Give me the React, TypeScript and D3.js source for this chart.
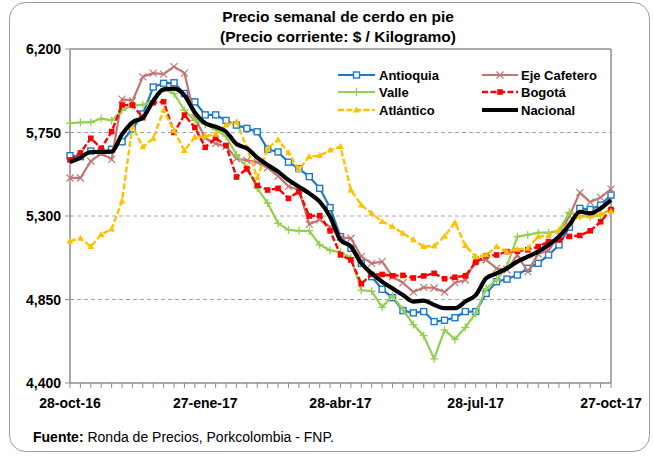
import * as d3 from 'd3'

// weekly prices, 28-oct-16 .. 27-oct-17 (53 weeks)
const START = new Date(2016, 9, 28)

const ANTIOQUIA = [
  5625, 5620, 5650, 5645, 5660, 5700, 5770, 5850, 5995, 6015, 6018, 5960, 5915,
  5845, 5845, 5815, 5790, 5772, 5754, 5660, 5645, 5590, 5555, 5512, 5449, 5345,
  5189, 5126, 5045, 4973, 4905, 4860, 4790, 4778, 4785, 4731, 4738, 4752, 4785,
  4785, 4883, 4946, 4960, 4982, 5018, 5045, 5090, 5144, 5240, 5341, 5335, 5359, 5413,
]
const EJE_CAFETERO = [
  5505, 5505, 5595, 5638, 5605, 5930, 5920, 6050, 6070, 6065, 6105, 6070, 5830,
  5720, 5690, 5675, 5610, 5600, 5590, 5560, 5515, 5460, 5440, 5255, 5280, 5240,
  5185, 5180, 5081, 5045, 5054, 4973, 4940, 4890, 4915, 4912, 4890, 4940, 4955,
  5063, 5063, 5018, 5009, 5090, 5000, 5095, 5115, 5198, 5300, 5426, 5375, 5400, 5445,
]
const VALLE = [
  5800, 5805, 5805, 5825, 5815, 5870, 5895, 5900, 5920, 5985, 5960, 5870, 5815,
  5795, 5765, 5730, 5630, 5560, 5450, 5370, 5260, 5225, 5220, 5220, 5145, 5115,
  5105, 5075, 4900, 4895, 4808, 4870, 4795, 4715, 4655, 4530, 4686, 4635, 4700,
  4776, 4910, 4955, 5030, 5189, 5198, 5210, 5210, 5220, 5320, 5300, 5296, 5305, 5340,
]
const BOGOTA = [
  5602, 5640, 5719, 5665, 5755, 5898, 5898, 5830, 5910, 5916, 5750, 5844, 5777,
  5670, 5720, 5680, 5510, 5555, 5465, 5440, 5449, 5395, 5431, 5300, 5302, 5220,
  5090, 5063, 4935, 4985, 4985, 4978, 4980, 4966, 4977, 4991, 4962, 4970, 4978,
  5050, 5085, 5090, 5108, 5110, 5118, 5135, 5162, 5171, 5190, 5195, 5220, 5269, 5335,
]
const ATLANTICO = [
  5165, 5180, 5135, 5200, 5230, 5380, 5783, 5672, 5717, 5871, 5760, 5653, 5725,
  5730, 5740, 5790, 5808, 5670, 5505, 5665, 5710, 5640, 5550, 5620, 5625, 5655,
  5674, 5440, 5359, 5314, 5270, 5243, 5207, 5171, 5135, 5138, 5190, 5265, 5140,
  5081, 5090, 5135, 5108, 5120, 5126, 5189, 5195, 5225, 5260, 5300, 5300, 5310, 5325,
]
const NACIONAL = [
  5590, 5615, 5645, 5645, 5647, 5740, 5805, 5830, 5920, 5982, 5986, 5950, 5858,
  5800, 5781, 5754, 5688, 5665, 5615, 5575, 5539, 5494, 5458, 5422, 5377, 5296,
  5171, 5135, 5045, 4991, 4946, 4910, 4874, 4839, 4844, 4821, 4803, 4803, 4839,
  4874, 4964, 4991, 5018, 5054, 5081, 5108, 5144, 5189, 5252, 5323, 5314, 5341, 5386,
]

const Y_TICKS = [4400, 4850, 5300, 5750, 6200]
const X_LABELS = ['28-oct-16', '27-ene-17', '28-abr-17', '28-jul-17', '27-oct-17']
const X_LABEL_WEEKS = [0, 13, 26, 39, 52]

type Marker = 'sqOpen' | 'x' | 'plus' | 'sq' | 'tri' | 'none'
interface Series { name: string; values: number[]; color: string; marker: Marker; width: number; dash?: string }

const SERIES: Series[] = [
  { name: 'Antioquia', values: ANTIOQUIA, color: '#1F78C8', marker: 'sqOpen', width: 2.2 },
  { name: 'Eje Cafetero', values: EJE_CAFETERO, color: '#C27572', marker: 'x', width: 2.2 },
  { name: 'Valle', values: VALLE, color: '#92D050', marker: 'plus', width: 2.2 },
  { name: 'Bogotá', values: BOGOTA, color: '#FF0000', marker: 'sq', width: 2.4, dash: '6 2.5' },
  { name: 'Atlántico', values: ATLANTICO, color: '#FFC000', marker: 'tri', width: 2.4, dash: '6 2.5' },
  { name: 'Nacional', values: NACIONAL, color: '#000000', marker: 'none', width: 4.2 },
]

const W = 653
const H = 456
const PLOT = { left: 70, right: 611, top: 49, bottom: 383 }
const NARROW = "'Liberation Sans Narrow', 'Arial Narrow', 'Liberation Sans', Arial, sans-serif"
const SANS = "'Liberation Sans', Arial, sans-serif"
const AXIS = '#8C8C8C'

const week = (i: number) => d3.timeWeek.offset(START, i)

function MarkerShape({ type, x, y, color }: { type: Marker; x: number; y: number; color: string }) {
  switch (type) {
    case 'sqOpen':
      return <rect x={x - 3} y={y - 3} width={6} height={6} fill="#fff" stroke={color} strokeWidth={1.4} />
    case 'sq':
      return <rect x={x - 2.8} y={y - 2.8} width={5.6} height={5.6} fill={color} />
    case 'x':
      return <path d={`M${x - 3.5},${y - 3.5}L${x + 3.5},${y + 3.5}M${x - 3.5},${y + 3.5}L${x + 3.5},${y - 3.5}`} stroke={color} strokeWidth={1.2} />
    case 'plus':
      return <path d={`M${x - 4},${y}L${x + 4},${y}M${x},${y - 4}L${x},${y + 4}`} stroke={color} strokeWidth={1.3} />
    case 'tri':
      return <path d={`M${x},${y - 3.6}L${x + 3.4},${y + 2.4}L${x - 3.4},${y + 2.4}Z`} fill={color} />
    default:
      return null
  }
}

export default function App() {
  const x = d3.scaleTime().domain([week(0), week(52)]).range([PLOT.left, PLOT.right])
  const y = d3.scaleLinear().domain([4400, 6200]).range([PLOT.bottom, PLOT.top])

  const lineFor = (s: Series) =>
    d3.line<number>()
      .x((_d, i) => x(week(i)))
      .y(d => y(d))
      .curve(s.marker === 'none' ? d3.curveMonotoneX : d3.curveLinear)(s.values) ?? ''

  const legendRows = [
    [SERIES[0], SERIES[1]],
    [SERIES[2], SERIES[3]],
    [SERIES[4], SERIES[5]],
  ]
  const legendCols = [{ x0: 338, x1: 375, tx: 379 }, { x0: 482, x1: 518, tx: 521 }]
  const legendY = [75, 92, 110]

  return (
    <div>
      <style>{'body{margin:0}'}</style>
      <svg width={W} height={H} style={{ display: 'block', background: '#fff' }}>
        <rect x={9.5} y={2.5} width={640} height={449} rx={16} fill="#fff" stroke="#9A9A9A" strokeWidth={1} />

        {/* title */}
        <text x={338} y={22} textAnchor="middle" fontFamily={NARROW} fontWeight="bold" fontSize={15.5} fill="#000">
          Precio semanal de cerdo en pie
        </text>
        <text x={338} y={42} textAnchor="middle" fontFamily={NARROW} fontWeight="bold" fontSize={15.5} fill="#000">
          (Precio corriente: $ / Kilogramo)
        </text>

        {/* grid */}
        {Y_TICKS.filter(t => t !== 4400 && t !== 6200).map(t => (
          <line key={t} x1={PLOT.left} x2={PLOT.right} y1={y(t)} y2={y(t)} stroke="#A6A6A6" strokeWidth={1} strokeDasharray="4 3" />
        ))}

        {/* plot frame */}
        <line x1={PLOT.left} x2={PLOT.right} y1={PLOT.top} y2={PLOT.top} stroke={AXIS} strokeWidth={1.5} />
        <line x1={PLOT.right} x2={PLOT.right} y1={PLOT.top} y2={PLOT.bottom} stroke={AXIS} strokeWidth={1.5} />
        <line x1={PLOT.left} x2={PLOT.left} y1={PLOT.top} y2={PLOT.bottom} stroke={AXIS} strokeWidth={1.5} />
        <line x1={PLOT.left} x2={PLOT.right} y1={PLOT.bottom} y2={PLOT.bottom} stroke={AXIS} strokeWidth={1.5} />

        {/* x ticks */}
        {d3.range(53).map(i => (
          <line key={i} x1={x(week(i))} x2={x(week(i))} y1={PLOT.bottom} y2={PLOT.bottom + 5} stroke={AXIS} strokeWidth={1} />
        ))}
        {X_LABELS.map((lab, k) => (
          <text key={lab} x={x(week(X_LABEL_WEEKS[k]))} y={408} textAnchor="middle" fontFamily={NARROW} fontWeight="bold" fontSize={14} fill="#000">
            {lab}
          </text>
        ))}

        {/* y ticks */}
        {Y_TICKS.map(t => (
          <g key={t}>
            <line x1={PLOT.left - 5} x2={PLOT.left} y1={y(t)} y2={y(t)} stroke={AXIS} strokeWidth={1} />
            <text x={61} y={y(t) + 5} textAnchor="end" fontFamily={NARROW} fontWeight="bold" fontSize={14} fill="#000">
              {d3.format(',')(t)}
            </text>
          </g>
        ))}

        {/* series */}
        {SERIES.map(s => (
          <g key={s.name}>
            <path d={lineFor(s)} fill="none" stroke={s.color} strokeWidth={s.width} strokeDasharray={s.dash} strokeLinejoin="round" />
            {s.values.map((v, i) => (
              <MarkerShape key={i} type={s.marker} x={x(week(i))} y={y(v)} color={s.color} />
            ))}
          </g>
        ))}

        {/* legend */}
        {legendRows.map((row, r) =>
          row.map((s, c) => {
            const col = legendCols[c]
            const ly = legendY[r]
            return (
              <g key={s.name}>
                <line x1={col.x0} x2={col.x1} y1={ly} y2={ly} stroke={s.color} strokeWidth={s.marker === 'none' ? 4 : s.width} strokeDasharray={s.dash} />
                <MarkerShape type={s.marker} x={(col.x0 + col.x1) / 2} y={ly} color={s.color} />
                <text x={col.tx} y={ly + 4.5} fontFamily={SANS} fontWeight="bold" fontSize={13} fill="#000">
                  {s.name}
                </text>
              </g>
            )
          })
        )}

        {/* footer */}
        <text x={33} y={442} fontFamily={NARROW} fontSize={14} fill="#000">
          <tspan fontWeight="bold">Fuente: </tspan>
          <tspan>Ronda de Precios, Porkcolombia  - FNP.</tspan>
        </text>
      </svg>
    </div>
  )
}
